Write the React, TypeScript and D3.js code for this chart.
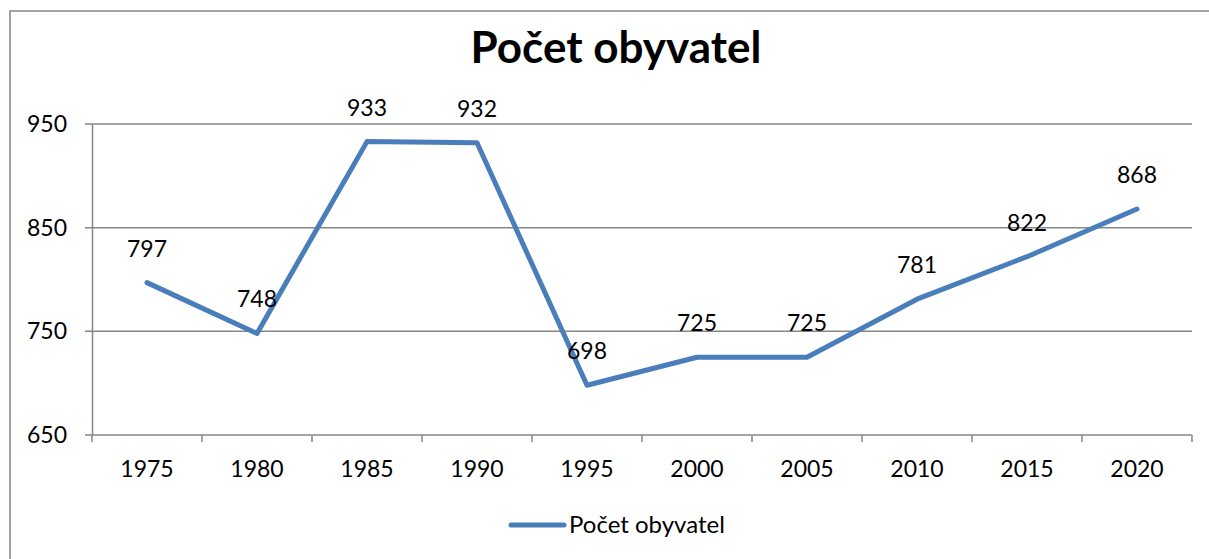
import React from "react";
import { scaleBand, scaleLinear, line as d3_line } from "d3";

const years = ["1975", "1980", "1985", "1990", "1995", "2000", "2005", "2010", "2015", "2020"];
const population = [797, 748, 933, 932, 698, 725, 725, 781, 822, 868];
const yTicks = [650, 750, 850, 950];

const title = "Počet obyvatel";
const seriesName = "Počet obyvatel";

const W = 1209;
const H = 559;
const font = "Lato, 'Open Sans', sans-serif";
const gray = "#868686";
const blue = "#4a7ebb";

export default function App() {
    const x = scaleBand().domain(years).range([92, 1192]);
    const y = scaleLinear().domain([650, 950]).range([435, 124]);

    const pts = years.map((yr, i) => ({ yr, v: population[i] }));
    const path = d3_line<(typeof pts)[number]>()
        .x((d) => (x(d.yr) ?? 0) + x.bandwidth() / 2)
        .y((d) => y(d.v))(pts);

    const tickXs = [...years.map((yr) => x(yr) ?? 0), 1192];

    return (
        <svg
            width={W}
            height={H}
            style={{ position: "fixed", left: 0, top: 0, background: "#fff" }}
            fontFamily={font}
        >
            {/* chart border */}
            <rect x={10} y={11} width={1220} height={560} fill="#fff" stroke={gray} strokeWidth={1.5} />

            <text x={616} y={63} textAnchor="middle" fontSize={44} fontWeight="bold" fill="#000">
                {title}
            </text>

            {/* gridlines + y labels */}
            {yTicks.map((t) => (
                <g key={t}>
                    <line x1={85} x2={1192} y1={y(t)} y2={y(t)} stroke={gray} strokeWidth={1.5} />
                    <text x={67} y={y(t) + 8} textAnchor="end" fontSize={23} fill="#000">
                        {t}
                    </text>
                </g>
            ))}

            {/* axes */}
            <line x1={92.5} x2={92.5} y1={124} y2={435} stroke={gray} strokeWidth={1.5} />
            {tickXs.map((tx, i) => (
                <line key={i} x1={tx} x2={tx} y1={435} y2={442} stroke={gray} strokeWidth={1.5} />
            ))}
            {years.map((yr) => (
                <text
                    key={yr}
                    x={(x(yr) ?? 0) + x.bandwidth() / 2}
                    y={477}
                    textAnchor="middle"
                    fontSize={23}
                    fill="#000"
                >
                    {yr}
                </text>
            ))}

            {/* series */}
            <path d={path ?? ""} fill="none" stroke={blue} strokeWidth={5} strokeLinejoin="round" strokeLinecap="round" />

            {pts.map((d) => (
                <text
                    key={d.yr}
                    x={(x(d.yr) ?? 0) + x.bandwidth() / 2}
                    y={y(d.v) - 26}
                    textAnchor="middle"
                    fontSize={23}
                    fill="#000"
                >
                    {d.v}
                </text>
            ))}

            {/* legend */}
            <line x1={511} x2={564} y1={525} y2={525} stroke={blue} strokeWidth={5} strokeLinecap="round" />
            <text x={569} y={533} fontSize={24} fill="#000">
                {seriesName}
            </text>
        </svg>
    );
}
